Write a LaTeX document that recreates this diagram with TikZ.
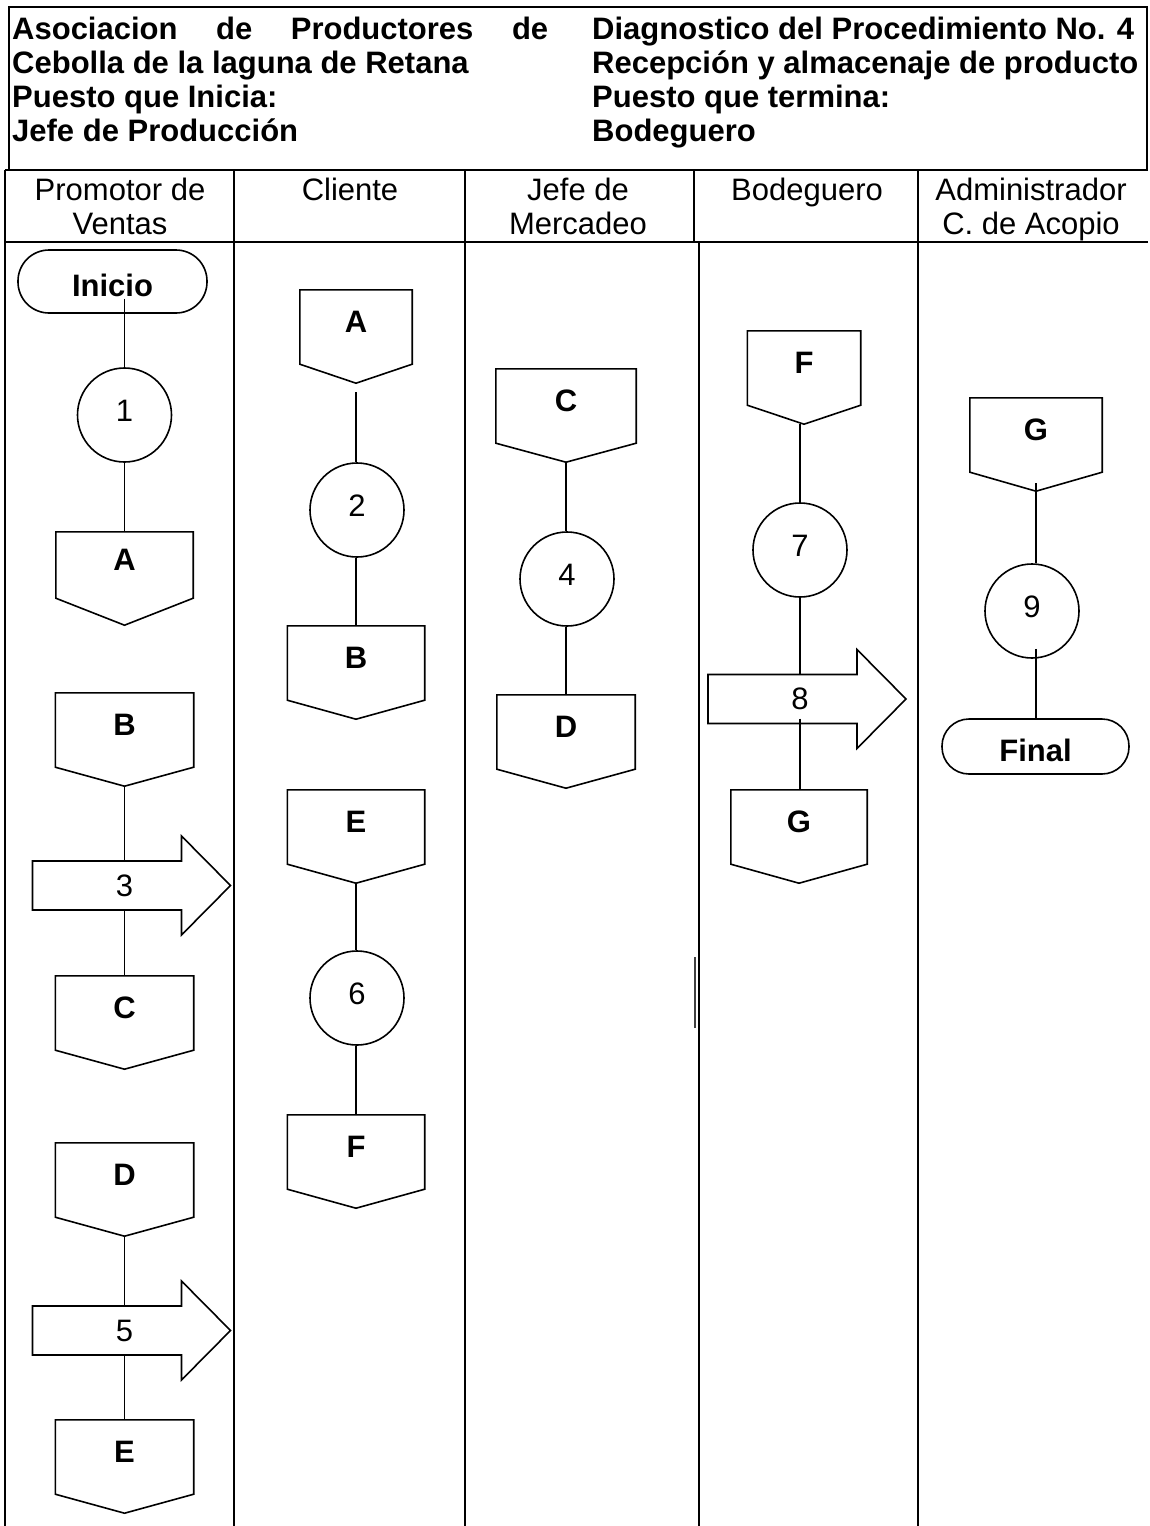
\documentclass[tikz,border=0pt]{standalone}
\usepackage{fontspec}
\setmainfont{Liberation Sans}
\usetikzlibrary{calc}

\tikzset{
  frame/.style={line width=2.6pt},
  shp/.style={line width=1.6pt, line join=miter},
  ln/.style={line width=1.6pt},
  hdr/.style={font=\bfseries\fontsize{31}{35}\selectfont, anchor=base west, inner sep=0pt},
  lanehd/.style={font=\fontsize{31}{35}\selectfont, anchor=base, inner sep=0pt},
  offlbl/.style={rectangle, inner sep=0pt, text height=22pt, text depth=12pt,
    font=\bfseries\fontsize{31}{35}\selectfont},
  opcircle/.style={circle, draw, line width=1.6pt, minimum size=94pt, inner sep=0pt,
    text height=22pt, text depth=10pt, font=\fontsize{31}{35}\selectfont},
  term/.style={rectangle, draw, line width=1.6pt, inner sep=0pt,
    text height=29pt, text depth=0pt,
    font=\bfseries\fontsize{31}{35}\selectfont},
  arrlbl/.style={rectangle, inner sep=0pt, minimum width=20pt, minimum height=49pt,
    font=\fontsize{31}{35}\selectfont},
}

% off-page connector: name, x, top, width, letter, height of the square part
\newcommand\offpg[6]{%
  \node[offlbl, minimum width=#4pt, minimum height=#6pt] (#1) at (#2,#3+#6/2) {#5};
  \draw[shp] (#1.south west) -- (#1.north west) -- (#1.north east) -- (#1.south east)
    -- ($(#1.south)+(0,93-#6)$) coordinate (#1p) -- cycle;
}
% block arrow pointing right: name, x, y, number
\newcommand\blockarrow[4]{%
  \node[arrlbl] (#1) at (#2,#3) {#4};
  \draw[shp] ($(#1)+(-92,-24.5)$) -- ($(#1)+(57,-24.5)$) -- ($(#1)+(57,-49.5)$)
    -- ($(#1)+(106,0)$) -- ($(#1)+(57,49.5)$) -- ($(#1)+(57,24.5)$)
    -- ($(#1)+(-92,24.5)$) -- cycle;
}

\begin{document}
\begin{tikzpicture}[x=1pt,y=-1pt]
\useasboundingbox (0,0) rectangle (1150,1526);

% title block
\draw[frame] (9,7) rectangle (1147,170);
\node[hdr] (t1) at (12,39) {\makebox[536pt][s]{Asociacion de Productores de}};
\node[hdr] (t2) at (12,73) {Cebolla de la laguna de Retana};
\node[hdr] (t3) at (12,107) {Puesto que Inicia:};
\node[hdr] (t4) at (12,141) {Jefe de Producción};
\node[hdr] (t5) at (592,39) {Diagnostico del Procedimiento No. 4};
\node[hdr] (t6) at (592,73) {Recepción y almacenaje de producto};
\node[hdr] (t7) at (592,107) {Puesto que termina:};
\node[hdr] (t8) at (592,141) {Bodeguero};

% swimlanes
\draw[frame] (5,170) -- (1147,170);
\draw[frame] (5,170) -- (5,1526);
\draw[frame] (5,242) -- (1148,242);
\foreach \xx in {234,465,694,918} \draw[frame] (\xx,170) -- (\xx,242);
\foreach \xx in {234,465,699,918} \draw[frame] (\xx,242) -- (\xx,1526);
\draw[line width=1.4pt, black!75] (695,957) -- (695,1028);

\node[lanehd] (h1a) at (120,200) {Promotor de};
\node[lanehd] (h1b) at (120,234) {Ventas};
\node[lanehd] (h2) at (350,200) {Cliente};
\node[lanehd] (h3a) at (578,200) {Jefe de};
\node[lanehd] (h3b) at (578,234) {Mercadeo};
\node[lanehd] (h4) at (807,200) {Bodeguero};
\node[lanehd] (h5a) at (1031,200) {Administrador};
\node[lanehd] (h5b) at (1031,234) {C. de Acopio};

% Promotor de Ventas
\node[term, minimum width=189pt, minimum height=63pt, rounded corners=31pt] (ini) at (112.5,281.5) {Inicio};
\node[opcircle] (c1) at (124.5,415) {1};
\offpg{oAa}{124.5}{532}{137}{A}{66}
\offpg{oBa}{124.5}{693}{138}{B}{74}
\blockarrow{a3}{124.5}{885.5}{3}
\offpg{oCa}{124.5}{976}{138}{C}{74}
\offpg{oDa}{124.5}{1143}{138}{D}{74}
\blockarrow{a5}{124.5}{1330.5}{5}
\offpg{oEa}{124.5}{1420}{138}{E}{74}

% Cliente
\offpg{oAb}{356}{290}{112}{A}{74}
\node[opcircle] (c2) at (357,510) {2};
\offpg{oBb}{356}{626}{137}{B}{74}
\offpg{oEb}{356}{790}{137}{E}{74}
\node[opcircle] (c6) at (357,998) {6};
\offpg{oFb}{356}{1115}{137}{F}{74}

% Jefe de Mercadeo
\offpg{oCc}{566}{369}{140}{C}{74}
\node[opcircle] (c4) at (567,579) {4};
\offpg{oDc}{566}{695}{138}{D}{74}

% Bodeguero
\offpg{oFd}{804}{331}{113}{F}{74}
\node[opcircle] (c7) at (800,550) {7};
\blockarrow{a8}{800}{699}{8}
\offpg{oGd}{799}{790}{136}{G}{74}

% Administrador C. de Acopio
\offpg{oGe}{1036}{398}{132}{G}{74}
\node[opcircle] (c9) at (1032,611) {9};
\node[term, minimum width=187pt, minimum height=55pt, rounded corners=27pt] (fin) at (1035.5,746.5) {Final};

% flow lines
\draw[ln] ($(ini.south -| c1)+(0,-15)$) -- (c1.north);
\draw[ln] (c1.south) -- (oAa.north);
\draw[ln] (oBap) -- (a3.north);
\draw[ln] (a3.south) -- (oCa.north);
\draw[ln] (oDap) -- (a5.north);
\draw[ln] (a5.south) -- (oEa.north);

\draw[ln] ($(oAbp)+(0,9)$) -- (oAbp |- c2.north);
\draw[ln] (c2.south -| oBb) -- (oBb.north);
\draw[ln] (oEbp) -- (oEbp |- c6.north);
\draw[ln] (c6.south -| oFb) -- (oFb.north);

\draw[ln] (oCcp) -- (oCcp |- c4.north);
\draw[ln] (c4.south -| oDc) -- (oDc.north);

\draw[ln] (oFdp -| c7.north) -- (c7.north);
\draw[ln] (c7.south) -- (a8.north);
\draw[ln] ($(a8.south)+(0,-5)$) -- (a8.south |- oGd.north);

\draw[ln] ($(oGep)+(0,-8)$) -- (oGep |- c9.north);
\draw[ln] ($(c9.south -| oGep)+(0,-10)$) -- (oGep |- fin.north);
\end{tikzpicture}
\end{document}
